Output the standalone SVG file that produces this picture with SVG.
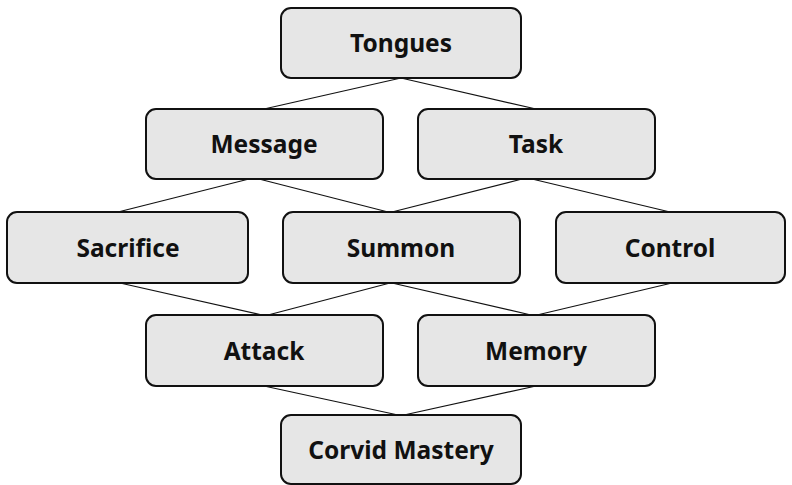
<svg xmlns="http://www.w3.org/2000/svg" width="792" height="485" viewBox="0 0 792 485">
  <style>
    .box { fill: #e6e6e6; stroke: #111; stroke-width: 2; }
    .lbl { font-family: "Noto Sans", "Open Sans", sans-serif; font-weight: 700; font-size: 24.5px; fill: #111; text-anchor: middle; }
    .edge { stroke: #111; stroke-width: 1.2; fill: none; }
  </style>
  <rect width="792" height="485" fill="#fff"/>
  <g id="connectors">
    <line class="edge" x1="401" y1="78" x2="264" y2="109"/>
    <line class="edge" x1="401" y1="78" x2="536" y2="109"/>
    <line class="edge" x1="249" y1="179" x2="118" y2="212"/>
    <line class="edge" x1="259" y1="179" x2="388" y2="212"/>
    <line class="edge" x1="522" y1="179" x2="392" y2="212"/>
    <line class="edge" x1="532" y1="179" x2="670" y2="212"/>
    <line class="edge" x1="120" y1="283" x2="262" y2="315"/>
    <line class="edge" x1="390" y1="283" x2="268" y2="315"/>
    <line class="edge" x1="392" y1="283" x2="531" y2="315"/>
    <line class="edge" x1="672" y1="283" x2="537" y2="315"/>
    <line class="edge" x1="264" y1="386" x2="398" y2="415"/>
    <line class="edge" x1="536" y1="386" x2="404" y2="415"/>
  </g>
  <g id="tongues">
    <rect class="box" x="281" y="8" width="240" height="70" rx="10"/>
    <text class="lbl" x="401" y="52">Tongues</text>
  </g>
  <g id="message">
    <rect class="box" x="146" y="109" width="237" height="70" rx="10"/>
    <text class="lbl" x="264" y="153">Message</text>
  </g>
  <g id="task">
    <rect class="box" x="418" y="109" width="237" height="70" rx="10"/>
    <text class="lbl" x="536" y="153">Task</text>
  </g>
  <g id="sacrifice">
    <rect class="box" x="7" y="212" width="241" height="71" rx="10"/>
    <text class="lbl" x="128" y="257">Sacrifice</text>
  </g>
  <g id="summon">
    <rect class="box" x="283" y="212" width="237" height="71" rx="10"/>
    <text class="lbl" x="401" y="257">Summon</text>
  </g>
  <g id="control">
    <rect class="box" x="556" y="212" width="229" height="71" rx="10"/>
    <text class="lbl" x="670" y="257">Control</text>
  </g>
  <g id="attack">
    <rect class="box" x="146" y="315" width="237" height="71" rx="10"/>
    <text class="lbl" x="264" y="360">Attack</text>
  </g>
  <g id="memory">
    <rect class="box" x="418" y="315" width="237" height="71" rx="10"/>
    <text class="lbl" x="536" y="360">Memory</text>
  </g>
  <g id="corvid-mastery">
    <rect class="box" x="281" y="415" width="240" height="69" rx="10"/>
    <text class="lbl" x="401" y="459">Corvid Mastery</text>
  </g>
</svg>
